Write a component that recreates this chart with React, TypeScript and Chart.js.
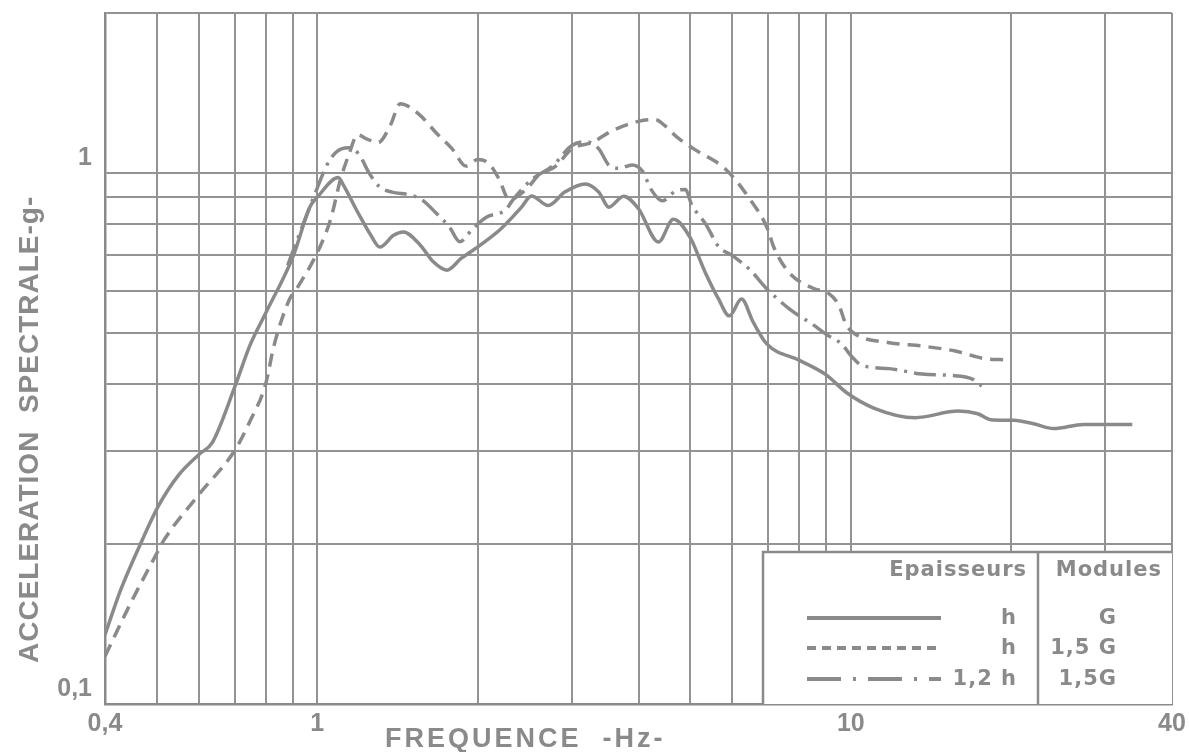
import React, { useEffect, useRef } from "react";
import { Chart, registerables } from "chart.js";

Chart.register(...registerables);

// ---- data (frequency in Hz, acceleration in g) ----
const solidFreq = [0.4, 0.428, 0.466, 0.505, 0.55, 0.6, 0.636, 0.7, 0.748, 0.8, 0.9, 0.97, 1.0, 1.095, 1.12, 1.19, 1.26, 1.31, 1.39, 1.45, 1.56, 1.65, 1.75, 1.86, 2.02, 2.21, 2.41, 2.52, 2.71, 2.91, 3.18, 3.37, 3.52, 3.75, 4.0, 4.36, 4.65, 5.0, 5.33, 5.65, 5.92, 6.24, 6.56, 6.95, 8.0, 8.98, 9.81, 11.1, 13.2, 15.9, 17.3, 18.3, 20.2, 22.0, 24.0, 27.3, 30.0, 33.7];
const solidAcc = [0.135, 0.164, 0.2, 0.237, 0.27, 0.295, 0.311, 0.395, 0.474, 0.544, 0.695, 0.865, 0.9, 0.98, 0.947, 0.844, 0.763, 0.725, 0.763, 0.774, 0.731, 0.68, 0.656, 0.69, 0.731, 0.785, 0.86, 0.905, 0.868, 0.92, 0.953, 0.92, 0.862, 0.904, 0.856, 0.741, 0.818, 0.755, 0.651, 0.579, 0.538, 0.579, 0.524, 0.477, 0.444, 0.417, 0.386, 0.36, 0.346, 0.356, 0.352, 0.343, 0.342, 0.337, 0.33, 0.336, 0.336, 0.336];

const dashedFreq = [0.4, 0.447, 0.5, 0.515, 0.6, 0.7, 0.747, 0.8, 0.83, 0.887, 0.91, 1.008, 1.06, 1.106, 1.147, 1.19, 1.24, 1.3, 1.37, 1.43, 1.55, 1.67, 1.79, 1.9, 2.0, 2.1, 2.19, 2.29, 2.46, 2.6, 2.8, 3.0, 3.27, 3.57, 4.0, 4.3, 4.47, 4.73, 5.15, 5.8, 6.43, 7.0, 7.15, 7.65, 8.55, 9.05, 9.5, 9.8, 10.2, 11.8, 13.6, 15.7, 18.1, 19.3];
const dashedAcc = [0.123, 0.155, 0.192, 0.203, 0.248, 0.3, 0.34, 0.4, 0.474, 0.578, 0.6, 0.72, 0.82, 0.974, 1.085, 1.18, 1.158, 1.14, 1.227, 1.35, 1.29, 1.19, 1.11, 1.03, 1.06, 1.04, 0.975, 0.89, 0.93, 0.99, 1.03, 1.11, 1.14, 1.2, 1.25, 1.26, 1.23, 1.166, 1.1, 1.02, 0.9, 0.78, 0.73, 0.65, 0.605, 0.595, 0.563, 0.518, 0.497, 0.479, 0.472, 0.462, 0.446, 0.445];

const dashDotFreq = [0.88, 0.98, 1.053, 1.11, 1.15, 1.2, 1.25, 1.31, 1.38, 1.49, 1.57, 1.67, 1.77, 1.85, 1.95, 2.07, 2.26, 2.32, 2.53, 2.76, 3.0, 3.19, 3.37, 3.52, 3.68, 3.89, 4.06, 4.24, 4.43, 4.7, 4.9, 5.03, 5.35, 5.66, 5.98, 6.47, 6.95, 7.68, 8.49, 8.98, 9.66, 9.93, 10.5, 11.8, 13.6, 15.7, 16.9, 17.6];
const dashDotAcc = [0.67, 0.89, 1.054, 1.11, 1.115, 1.08, 1.0, 0.94, 0.92, 0.909, 0.89, 0.84, 0.79, 0.742, 0.782, 0.824, 0.854, 0.887, 0.974, 1.03, 1.126, 1.145, 1.11, 1.034, 1.02, 1.035, 1.01, 0.925, 0.886, 0.925, 0.93, 0.872, 0.8, 0.725, 0.7, 0.657, 0.606, 0.554, 0.518, 0.497, 0.474, 0.457, 0.434, 0.428, 0.418, 0.415, 0.409, 0.397];

const xGridValues = [0.4, 0.5, 0.6, 0.7, 0.8, 0.9, 1, 2, 3, 4, 5, 6, 7, 8, 9, 10, 20, 30, 40];
const xLabelValues = [0.4, 1, 10, 40];
const xLabelTexts = ["0,4", "1", "10", "40"];
const yGridValues = [0.1, 0.2, 0.3, 0.4, 0.5, 0.6, 0.7, 0.8, 0.9, 1, 2];
const yLabelValues = [0.1, 1];
const yLabelTexts = ["0,1", "1"];

const xTitle = "FREQUENCE  -Hz-";
const yTitle = "ACCELERATION  SPECTRALE-g-";
const legendHeadThickness = "Epaisseurs";
const legendHeadModulus = "Modules";
const legendThickness = ["h", "h", "1,2 h"];
const legendModulus = ["G", "1,5 G", "1,5G"];

const INK = "#8a8a8a";
const GRID = "#939393";
const DASHED = [13, 8];
const DASHDOT = [22, 7, 3, 7];

function labelFor(values: number[], texts: string[], v: number): string {
  const i = values.findIndex((a) => Math.abs(a - v) < 1e-9);
  return i >= 0 ? texts[i] : "";
}

function toPoints(xs: number[], ys: number[]) {
  return xs.map((x, i) => ({ x, y: ys[i] }));
}

const overlayPlugin = {
  id: "overlay",
  afterDraw(chart: any) {
    const ctx: CanvasRenderingContext2D = chart.ctx;
    const { right: R, bottom: B } = chart.chartArea;
    ctx.save();

    // y axis title
    ctx.fillStyle = INK;
    ctx.font = "bold 28px 'Liberation Sans', Arial, sans-serif";
    (ctx as any).letterSpacing = "1px";
    ctx.textAlign = "left";
    ctx.textBaseline = "middle";
    ctx.save();
    ctx.translate(30, 663);
    ctx.rotate(-Math.PI / 2);
    ctx.fillText(yTitle, 0, 0);
    ctx.restore();

    // x axis title
    ctx.font = "bold 27px 'Liberation Sans', Arial, sans-serif";
    (ctx as any).letterSpacing = "3px";
    ctx.textBaseline = "alphabetic";
    ctx.fillText(xTitle, 385, 747);
    (ctx as any).letterSpacing = "0px";

    // legend table
    const left = R - 409;
    const top = B - 152;
    const divider = R - 134;
    ctx.fillStyle = "#ffffff";
    ctx.fillRect(left, top, R - left, B - top);
    ctx.strokeStyle = INK;
    ctx.lineWidth = 2.5;
    ctx.setLineDash([]);
    ctx.beginPath();
    ctx.moveTo(left, B);
    ctx.lineTo(left, top);
    ctx.lineTo(R, top);
    ctx.moveTo(divider, top);
    ctx.lineTo(divider, B);
    ctx.stroke();

    ctx.fillStyle = INK;
    ctx.font = "bold 21px 'DejaVu Sans', sans-serif";
    (ctx as any).letterSpacing = "1px";
    ctx.textBaseline = "middle";
    ctx.textAlign = "right";
    ctx.fillText(legendHeadThickness, R - 145, B - 133);
    ctx.fillText(legendHeadModulus, R - 10, B - 133);

    const rowY = [B - 85, B - 55, B - 24];
    const dashes = [[], [9, 6], [34, 12, 3, 12]];
    rowY.forEach((y, i) => {
      ctx.fillText(legendThickness[i], R - 155, y);
      ctx.fillText(legendModulus[i], R - 55, y);
      ctx.save();
      ctx.strokeStyle = INK;
      ctx.lineWidth = 4;
      ctx.setLineDash(dashes[i]);
      ctx.beginPath();
      ctx.moveTo(R - 365, y - 1);
      ctx.lineTo(R - 231, y - 1);
      ctx.stroke();
      ctx.restore();
    });
    ctx.restore();
  },
};

export default function App() {
  const ref = useRef<HTMLCanvasElement | null>(null);

  useEffect(() => {
    if (!ref.current) return;
    const lineBase = {
      borderColor: INK,
      borderWidth: 3.5,
      pointRadius: 0,
      fill: false,
      cubicInterpolationMode: "monotone" as const,
    };
    const chart = new Chart(ref.current, {
      type: "line",
      data: {
        datasets: [
          { ...lineBase, label: "h G", data: toPoints(solidFreq, solidAcc) },
          { ...lineBase, label: "h 1,5G", borderDash: DASHED, data: toPoints(dashedFreq, dashedAcc) },
          { ...lineBase, label: "1,2h 1,5G", borderDash: DASHDOT, data: toPoints(dashDotFreq, dashDotAcc) },
        ],
      },
      options: {
        responsive: false,
        animation: false,
        devicePixelRatio: 1,
        layout: { padding: { top: 13, right: 17, left: 0, bottom: 0 } },
        plugins: { legend: { display: false }, tooltip: { enabled: false } },
        scales: {
          x: {
            type: "logarithmic",
            min: 0.4,
            max: 40,
            afterBuildTicks: (scale: any) => {
              scale.ticks = xGridValues.map((v) => ({ value: v }));
            },
            afterFit: (scale: any) => {
              scale.height = 48;
              scale.paddingLeft = 0;
              scale.paddingRight = 0;
            },
            ticks: {
              autoSkip: false,
              maxRotation: 0,
              minRotation: 0,
              padding: 8,
              color: INK,
              font: { family: "'Liberation Sans Narrow', 'Liberation Sans', sans-serif", size: 25, weight: "bold", lineHeight: 1 },
              callback: (v: any) => labelFor(xLabelValues, xLabelTexts, Number(v)),
            },
            grid: { color: GRID, lineWidth: 2, drawTicks: false },
            border: { display: true, color: INK, width: 2.5 },
          },
          y: {
            type: "logarithmic",
            min: 0.1,
            max: 2,
            afterBuildTicks: (scale: any) => {
              scale.ticks = yGridValues.map((v) => ({ value: v }));
            },
            afterFit: (scale: any) => {
              scale.width = 105;
              scale.paddingTop = 0;
              scale.paddingBottom = 0;
            },
            ticks: {
              autoSkip: false,
              padding: 13,
              labelOffset: -15,
              color: INK,
              font: { family: "'Liberation Sans Narrow', 'Liberation Sans', sans-serif", size: 25, weight: "bold", lineHeight: 1 },
              callback: (v: any) => labelFor(yLabelValues, yLabelTexts, Number(v)),
            },
            grid: { color: GRID, lineWidth: 2, drawTicks: false },
            border: { display: true, color: INK, width: 2.5 },
          },
        },
      },
      plugins: [overlayPlugin],
    } as any);
    return () => chart.destroy();
  }, []);

  return (
    <div style={{ position: "absolute", left: 0, top: 0, width: 1189, height: 752, background: "#ffffff" }}>
      <canvas ref={ref} width={1189} height={752} style={{ display: "block" }} />
    </div>
  );
}
